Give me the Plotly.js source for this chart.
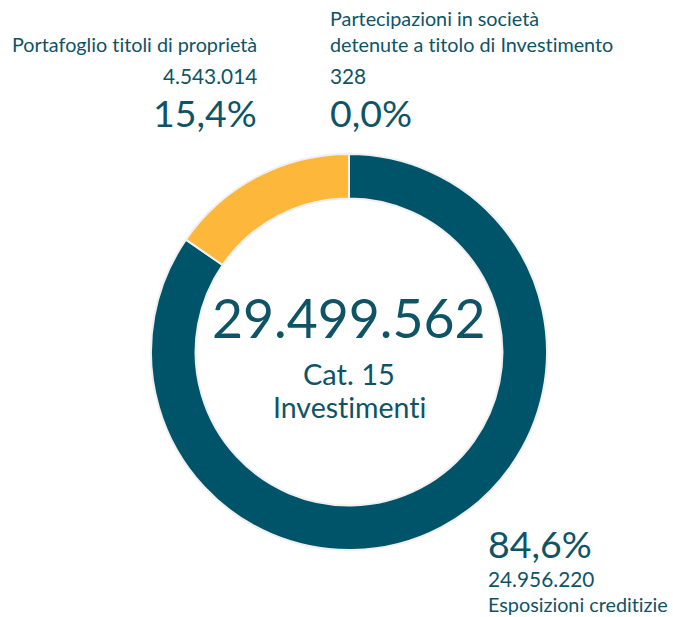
<!DOCTYPE html>
<html>
<head>
<meta charset="utf-8">
<script src="https://cdn.plot.ly/plotly-3.0.1.min.js"></script>
<style>html,body{margin:0;padding:0;background:#fff;}#chart{width:673px;height:617px;}
svg text{font-variant-ligatures:none;font-feature-settings:"liga" 0;}</style>
</head>
<body>
<div id="chart"></div>
<script>
const categories = ["Esposizioni creditizie", "Portafoglio titoli di proprietà", "Partecipazioni in società<br>detenute a titolo di Investimento"];
const values = [24956220, 4543014, 328];
const centerLabel = ["Cat. 15", "Investimenti"];
const colors = ["#005469", "#fdb73a", "#e8e8e8"];

const W = 673, H = 617;
const px = x => x / W;
const py = y => 1 - y / H;
const TXT = "#0e5466";
const FONT = "Lato, 'Noto Sans', sans-serif";

function fmt(n) { return String(n).replace(/\B(?=(\d{3})+(?!\d))/g, "."); }
const total = values.reduce((a, b) => a + b, 0);
function pct(v) { return (v / total * 100).toFixed(1).replace(".", ",") + "%"; }

const cx = 349, cy = 352, R = 198;

const trace = {
  type: "pie",
  labels: categories,
  values: values,
  hole: 0.775,
  sort: false,
  direction: "clockwise",
  rotation: 0,
  textinfo: "none",
  hoverinfo: "none",
  marker: { colors: colors, line: { color: "#f0f0f0", width: 2 } },
  domain: { x: [px(cx - R), px(cx + R)], y: [py(cy + R), py(cy - R)] }
};

function ann(text, x, y, size, xanchor) {
  return { text: text, x: px(x), y: py(y), xref: "paper", yref: "paper", xanchor: xanchor, yanchor: "middle",
    showarrow: false, font: { family: FONT, size: size, color: TXT }, align: xanchor === "right" ? "right" : (xanchor === "center" ? "center" : "left") };
}

const LBL = 19.8, VAL = 20.8, PCT = 37.5;
const annotations = [
  ann(categories[1], 259, 44, LBL, "right"),
  ann(fmt(values[1]), 259, 75, VAL, "right"),
  ann(pct(values[1]), 259, 113, PCT, "right"),
  ann(categories[2], 328, 31, LBL, "left"),
  ann(fmt(values[2]), 328, 75, VAL, "left"),
  ann(pct(values[2]), 328, 113, PCT, "left"),
  ann(pct(values[0]), 486, 543, PCT, "left"),
  ann(fmt(values[0]), 486, 578, VAL, "left"),
  ann(categories[0], 486, 604, LBL, "left"),
  ann(fmt(total), 349, 317, 53.5, "center"),
  ann(centerLabel[0], 349, 373, 29, "center"),
  ann(centerLabel[1], 349, 407, 28.5, "center")
];

const layout = {
  width: W, height: H,
  margin: { l: 0, r: 0, t: 0, b: 0 },
  showlegend: false,
  paper_bgcolor: "#ffffff",
  annotations: annotations
};

Plotly.newPlot("chart", [trace], layout, { displayModeBar: false, staticPlot: true });
</script>
</body>
</html>
